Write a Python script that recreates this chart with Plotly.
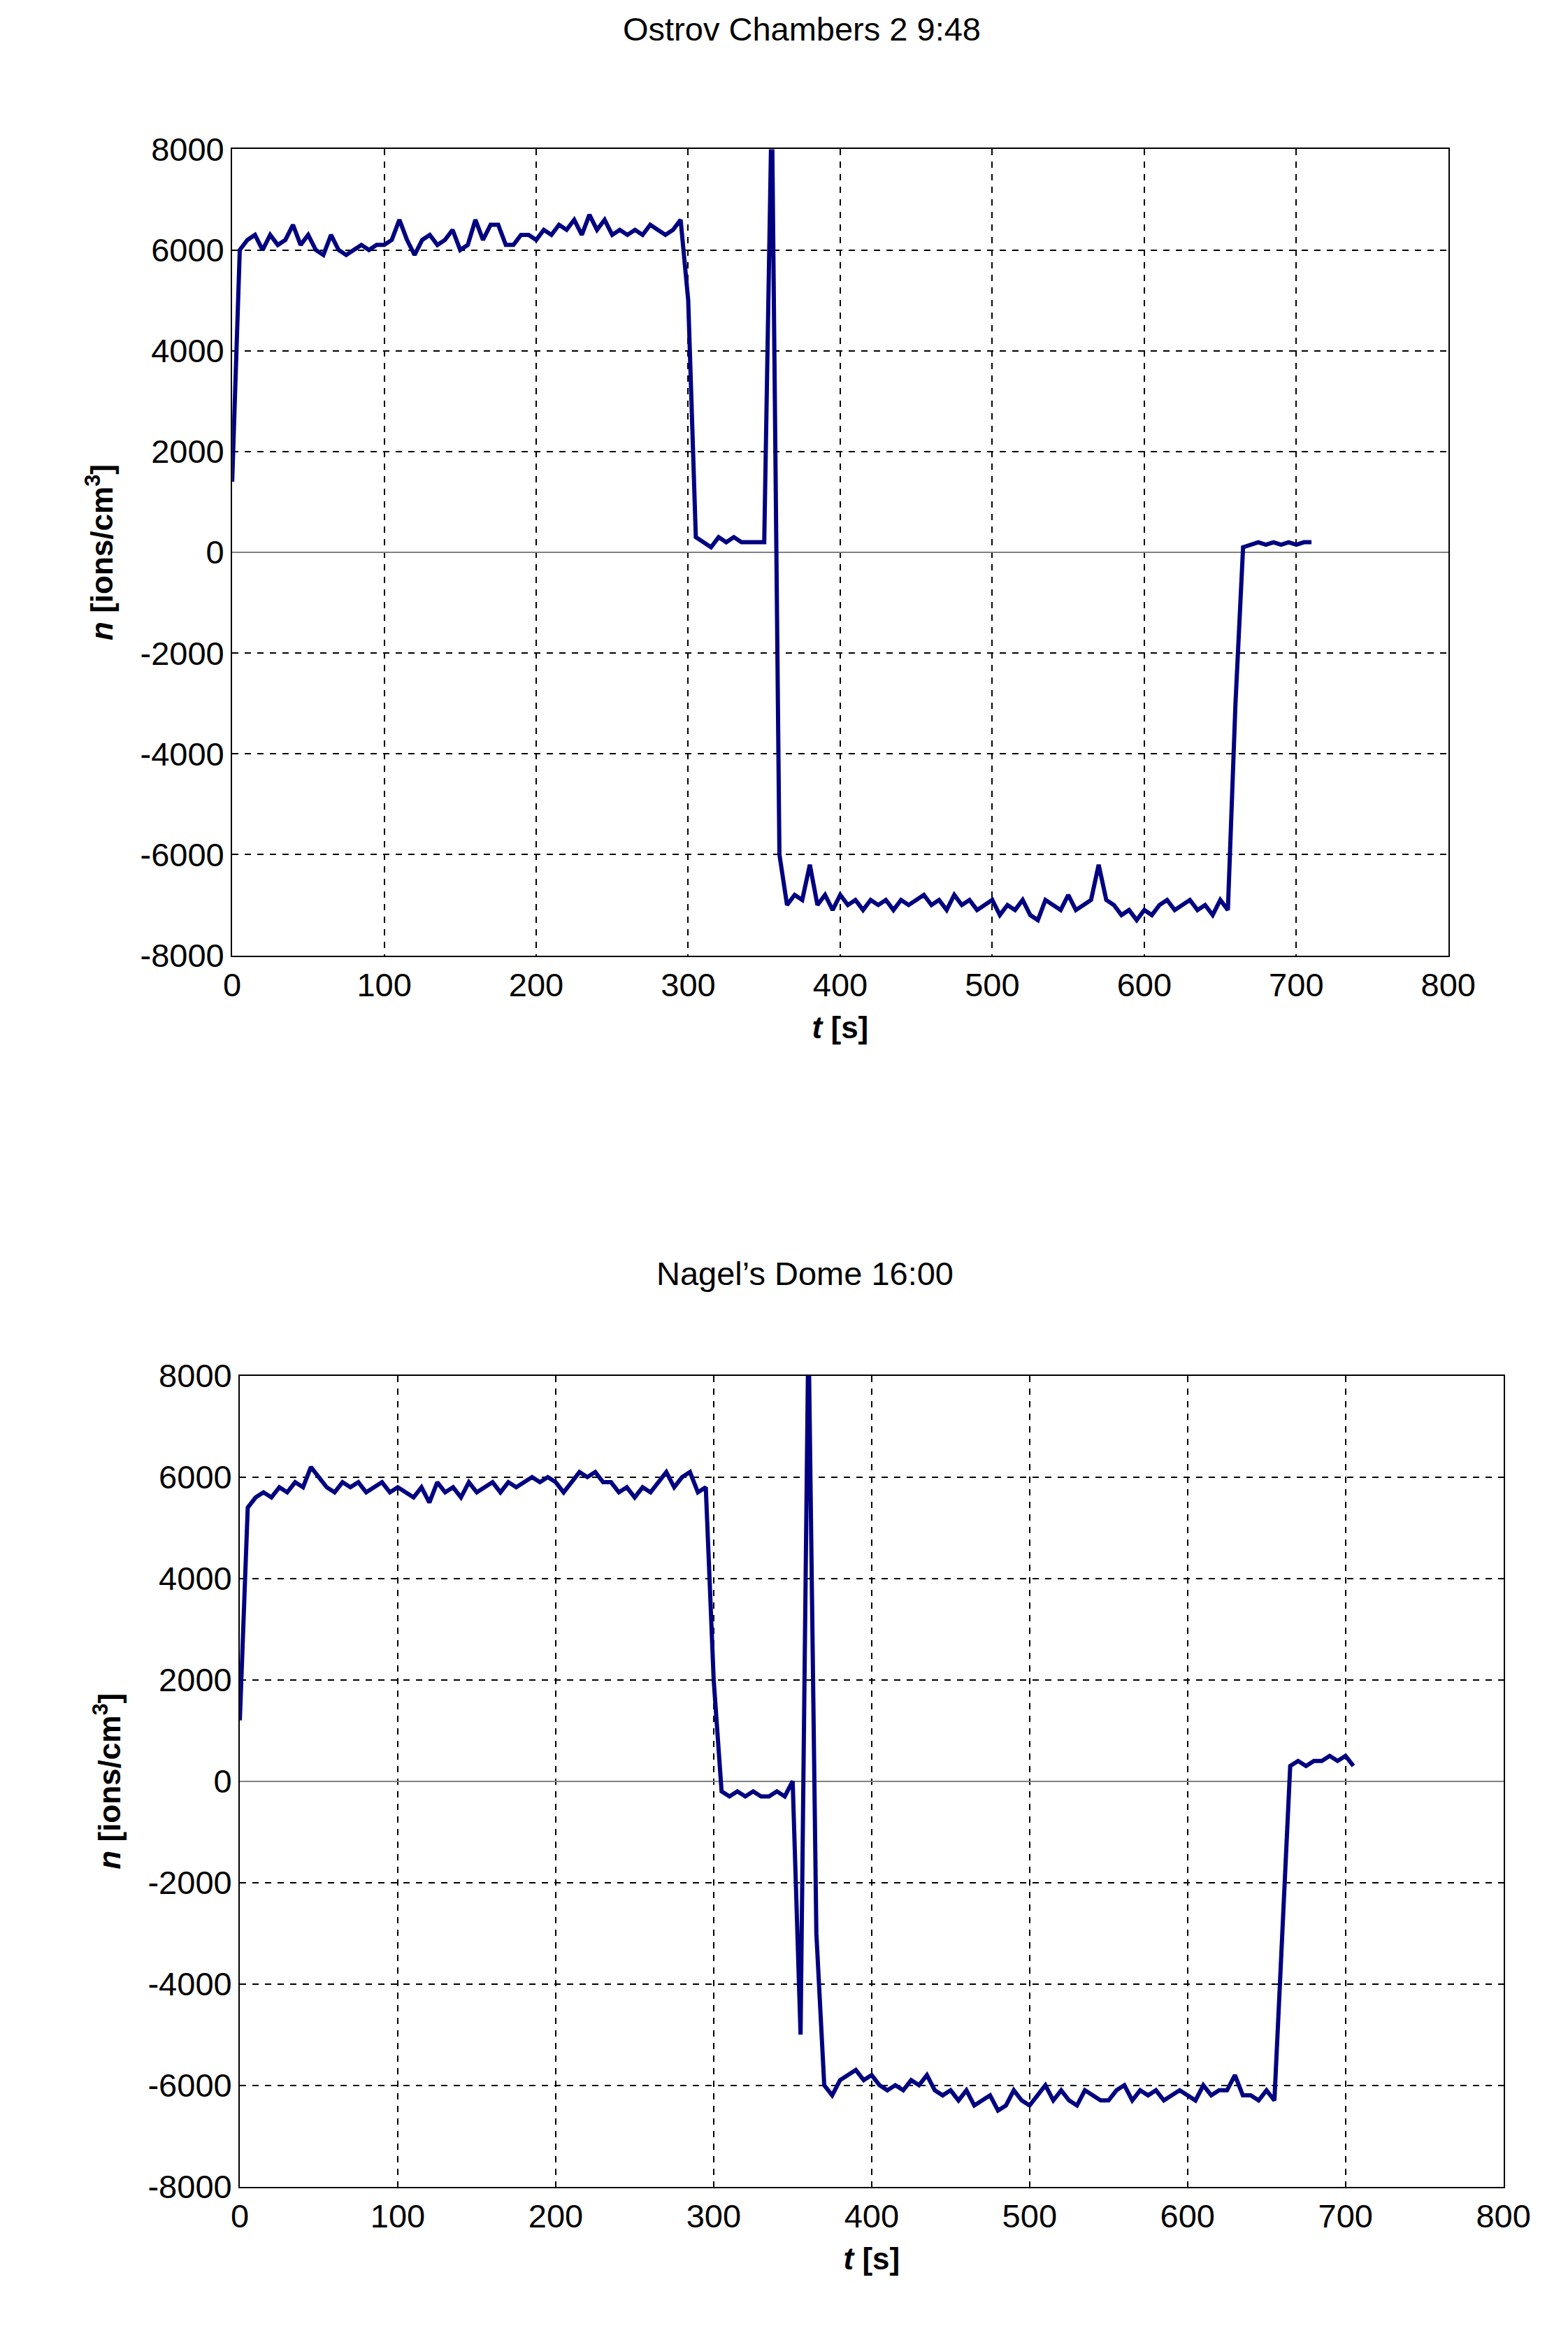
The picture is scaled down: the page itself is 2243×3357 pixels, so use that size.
import plotly.graph_objects as go

t1 = list(range(0, 715, 5))
n1 = [1400,6000,6200,6300,6000,6300,6100,6200,6500,6100,
      6300,6000,5900,6300,6000,5900,6000,6100,6000,6100,
      6100,6200,6600,6200,5900,6200,6300,6100,6200,6400,
      6000,6100,6600,6200,6500,6500,6100,6100,6300,6300,
      6200,6400,6300,6500,6400,6600,6300,6700,6400,6600,
      6300,6400,6300,6400,6300,6500,6400,6300,6400,6600,
      5000,300,200,100,300,200,300,200,200,200,
      200,9000,-6000,-7000,-6800,-6900,-6200,-7000,-6800,-7100,
      -6800,-7000,-6900,-7100,-6900,-7000,-6900,-7100,-6900,-7000,
      -6900,-6800,-7000,-6900,-7100,-6800,-7000,-6900,-7100,-7000,
      -6900,-7200,-7000,-7100,-6900,-7200,-7300,-6900,-7000,-7100,
      -6800,-7100,-7000,-6900,-6200,-6900,-7000,-7200,-7100,-7300,
      -7100,-7200,-7000,-6900,-7100,-7000,-6900,-7100,-7000,-7200,
      -6900,-7100,-3000,100,150,200,150,200,150,200,
      150,200,200]

t2 = list(range(0, 710, 5))
n2 = [1200,5400,5600,5700,5600,5800,5700,5900,5800,6200,
      6000,5800,5700,5900,5800,5900,5700,5800,5900,5700,
      5800,5700,5600,5800,5500,5900,5700,5800,5600,5900,
      5700,5800,5900,5700,5900,5800,5900,6000,5900,6000,
      5900,5700,5900,6100,6000,6100,5900,5900,5700,5800,
      5600,5800,5700,5900,6100,5800,6000,6100,5700,5800,
      2000,-200,-300,-200,-300,-200,-300,-300,-200,-300,
      0,-5000,9000,-3000,-6000,-6200,-5900,-5800,-5700,-5900,
      -5800,-6000,-6100,-6000,-6100,-5900,-6000,-5800,-6100,-6200,
      -6100,-6300,-6100,-6400,-6300,-6200,-6500,-6400,-6100,-6300,
      -6400,-6200,-6000,-6300,-6100,-6300,-6400,-6100,-6200,-6300,
      -6300,-6100,-6000,-6300,-6100,-6200,-6100,-6300,-6200,-6100,
      -6200,-6300,-6000,-6200,-6100,-6100,-5800,-6200,-6200,-6300,
      -6100,-6300,-3000,300,400,300,400,400,500,400,
      500,300]

titles = ["Ostrov Chambers 2 9:48", "Nagel\u2019s Dome 16:00"]
y_ticks = [-8000, -6000, -4000, -2000, 0, 2000, 4000, 6000, 8000]
y_labels = ["-8000", "-6000", "-4000", "-2000", "0", "2000", "4000", "6000", "8000"]
FONT = "Liberation Sans, Arial, sans-serif"

fig = go.Figure()
fig.add_trace(go.Scatter(x=t1, y=n1, mode="lines", line=dict(color="#000080", width=6), xaxis="x", yaxis="y"))
fig.add_trace(go.Scatter(x=t2, y=n2, mode="lines", line=dict(color="#000080", width=6), xaxis="x2", yaxis="y2"))

def xax(dom, anchor):
    return dict(domain=dom, anchor=anchor, range=[0, 800], dtick=100, showline=True, mirror=True,
                linecolor="black", linewidth=2, showgrid=True, gridcolor="black", griddash="dash",
                gridwidth=1.5, zeroline=False, ticks="", tickfont=dict(size=47, family=FONT, color="black"),
                title=dict(text="<b><i>t</i> [s]</b>", font=dict(size=44, family=FONT, color="black"), standoff=20))

def yax(dom, anchor):
    return dict(domain=dom, anchor=anchor, range=[-8000, 8000], tickvals=y_ticks, ticktext=y_labels,
                showline=True, mirror=True,
                linecolor="black", linewidth=2, showgrid=True, gridcolor="black", griddash="dash",
                gridwidth=1.5, zeroline=True, zerolinecolor="#808080", zerolinewidth=2, ticks="",
                tickfont=dict(size=47, family=FONT, color="black"),
                title=dict(text="<b><i>n</i> [ions/cm<sup>3</sup>]</b>", font=dict(size=44, family=FONT, color="black"), standoff=25))

fig.update_layout(
    width=2243, height=3357, margin=dict(l=0, r=0, t=0, b=0),
    paper_bgcolor="white", plot_bgcolor="white", showlegend=False,
    xaxis=xax([0.142, 0.936], "y"), yaxis=yax([0.597, 0.946], "x"),
    xaxis2=xax([0.147, 0.972], "y2"), yaxis2=yax([0.064, 0.415], "x2"),
    annotations=[
        dict(text=titles[0], x=0.514, y=0.998, xref="paper", yref="paper", showarrow=False, yanchor="middle",
             font=dict(size=47, family=FONT, color="black")),
        dict(text=titles[1], x=0.516, y=1 - 1815/3357, xref="paper", yref="paper", showarrow=False,
             font=dict(size=47, family=FONT, color="black")),
    ],
)
fig.write_html("out.html")
